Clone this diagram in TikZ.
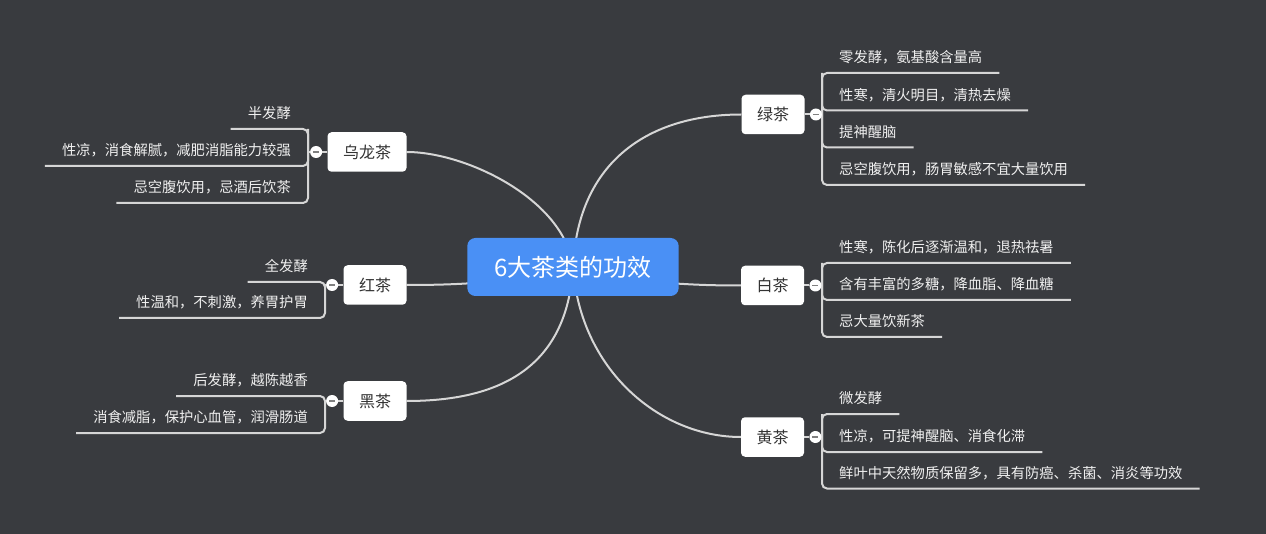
\documentclass[tikz,border=0pt]{standalone}
\usepackage{fontspec}
\setmainfont{Noto Sans CJK SC}
\usetikzlibrary{positioning,backgrounds}
\definecolor{bgdark}{HTML}{393B3F}
\definecolor{rootblue}{HTML}{4A90F5}
\definecolor{linegray}{HTML}{D6D6D6}
\definecolor{leaftext}{HTML}{F0F0F0}
\definecolor{topictext}{HTML}{333333}
\tikzset{
  root/.style={fill=rootblue, rounded corners=8pt, text=white, font=\fontsize{24}{28}\selectfont,
    inner xsep=27pt, minimum height=58pt, text height=18.5pt, text depth=0.3pt},
  topic/.style={fill=white, rounded corners=4pt, text=topictext, font=\fontsize{16}{19}\selectfont,
    inner xsep=15.5pt, minimum height=39.5pt, text height=12.5pt, text depth=0.3pt},
  fold/.style={circle, fill=white, inner sep=0pt, minimum size=12pt,
    path picture={\draw[line width=1.8pt, gray] ([xshift=-3pt]path picture bounding box.center)
      -- ([xshift=3pt]path picture bounding box.center);}},
  leaf/.style={text=leaftext, font=\fontsize{14.3}{17}\selectfont, inner xsep=17pt, inner ysep=0pt,
    text height=12pt, text depth=10pt},
  link/.style={draw=linegray, line width=2pt},
  bracket/.style={link, rounded corners=5pt},
}
\begin{document}
\begin{tikzpicture}[x=1pt,y=-1pt]
  \useasboundingbox (0,0) rectangle (1266,534);
  \node[root] (cha) at (573,267) {6大茶类的功效};
  %
  \node[topic] (lv) at (773,114.5) {绿茶};
  \node[topic] (bai) at (772.5,285.5) {白茶};
  \node[topic] (huang) at (772.5,437) {黄茶};
  \node[topic] (wl) at (367,152) {乌龙茶};
  \node[topic] (hong) at (375,285) {红茶};
  \node[topic] (hei) at (375,401) {黑茶};
  %
  \node[fold, right=5pt of lv] (lvf) {};
  \node[fold, right=5pt of bai] (baif) {};
  \node[fold, right=5pt of huang] (huangf) {};
  \node[fold, left=5pt of wl] (wlf) {};
  \node[fold, left=5pt of hong] (hongf) {};
  \node[fold, left=5pt of hei] (heif) {};
  %
  \node[leaf, anchor=south west] (lv1) at (822,73) {零发酵，氨基酸含量高};
  \node[leaf, anchor=south west] (lv2) at (822,110.5) {性寒，清火明目，清热去燥};
  \node[leaf, anchor=south west] (lv3) at (822,147.5) {提神醒脑};
  \node[leaf, anchor=south west] (lv4) at (822,185) {忌空腹饮用，肠胃敏感不宜大量饮用};
  %
  \node[leaf, anchor=south west] (bai1) at (822,263) {性寒，陈化后逐渐温和，退热祛暑};
  \node[leaf, anchor=south west] (bai2) at (822,300) {含有丰富的多糖，降血脂、降血糖};
  \node[leaf, anchor=south west] (bai3) at (822,337) {忌大量饮新茶};
  %
  \node[leaf, anchor=south west] (huang1) at (822,414) {微发酵};
  \node[leaf, anchor=south west] (huang2) at (822,452) {性凉，可提神醒脑、消食化滞};
  \node[leaf, anchor=south west] (huang3) at (822,488.5) {鲜叶中天然物质保留多，具有防癌、杀菌、消炎等功效};
  %
  \node[leaf, anchor=south east] (wl1) at (308,129) {半发酵};
  \node[leaf, anchor=south east] (wl2) at (308,166) {性凉，消食解腻，减肥消脂能力较强};
  \node[leaf, anchor=south east] (wl3) at (308,203) {忌空腹饮用，忌酒后饮茶};
  %
  \node[leaf, anchor=south east] (hong1) at (325,282) {全发酵};
  \node[leaf, anchor=south east] (hong2) at (325,318) {性温和，不刺激，养胃护胃};
  %
  \node[leaf, anchor=south east] (hei1) at (325,396) {后发酵，越陈越香};
  \node[leaf, anchor=south east] (hei2) at (325,433) {消食减脂，保护心血管，润滑肠道};
  %
  \begin{pgfonlayer}{background}
    \fill[bgdark] (0,0) rectangle (1266,534);
    % main branches
    \draw[link] (cha.center) .. controls +(5,-107) and +(-91,0) .. (lv.west);
    \draw[link] (cha.center) .. controls +(60,17) and +(-40,0) .. (bai.west);
    \draw[link] (cha.center) .. controls +(7,103) and +(-81,0) .. (huang.west);
    \draw[link] (cha.center) .. controls +(-8,-67) and +(60,0) .. (wl.east);
    \draw[link] (cha.center) .. controls +(-60,17) and +(40,0) .. (hong.east);
    \draw[link] (cha.center) .. controls +(-6,103) and +(90,0) .. (hei.east);
    % folds
    \draw[link] (lv) -- (lvf) -- (lvf -| lv1.south west);
    \draw[link] (bai) -- (baif) -- (baif -| bai1.south west);
    \draw[link] (huang) -- (huangf) -- (huangf -| huang1.south west);
    \draw[link] (wl) -- (wlf) -- (wlf -| wl1.south east);
    \draw[link] (hong) -- (hongf) -- (hongf -| hong1.south east);
    \draw[link] (hei) -- (heif) -- (heif -| hei1.south east);
    % right brackets
    \draw[bracket] (lv1.south east) -- (lv1.south west) -- (lv4.south west) -- (lv4.south east);
    \draw[bracket] (lv1.south west) -- (lv2.south west) -- (lv2.south east);
    \draw[bracket] (lv2.south west) -- (lv3.south west) -- (lv3.south east);
    \draw[bracket] (bai1.south east) -- (bai1.south west) -- (bai3.south west) -- (bai3.south east);
    \draw[bracket] (bai1.south west) -- (bai2.south west) -- (bai2.south east);
    \draw[bracket] (huang1.south east) -- (huang1.south west) -- (huang3.south west) -- (huang3.south east);
    \draw[bracket] (huang1.south west) -- (huang2.south west) -- (huang2.south east);
    % left brackets
    \draw[bracket] (wl1.south west) -- (wl1.south east) -- (wl3.south east) -- (wl3.south west);
    \draw[bracket] (wl1.south east) -- (wl2.south east) -- (wl2.south west);
    \draw[bracket] (hong1.south west) -- (hong1.south east) -- (hong2.south east) -- (hong2.south west);
    \draw[bracket] (hei1.south west) -- (hei1.south east) -- (hei2.south east) -- (hei2.south west);
  \end{pgfonlayer}
\end{tikzpicture}
\end{document}
